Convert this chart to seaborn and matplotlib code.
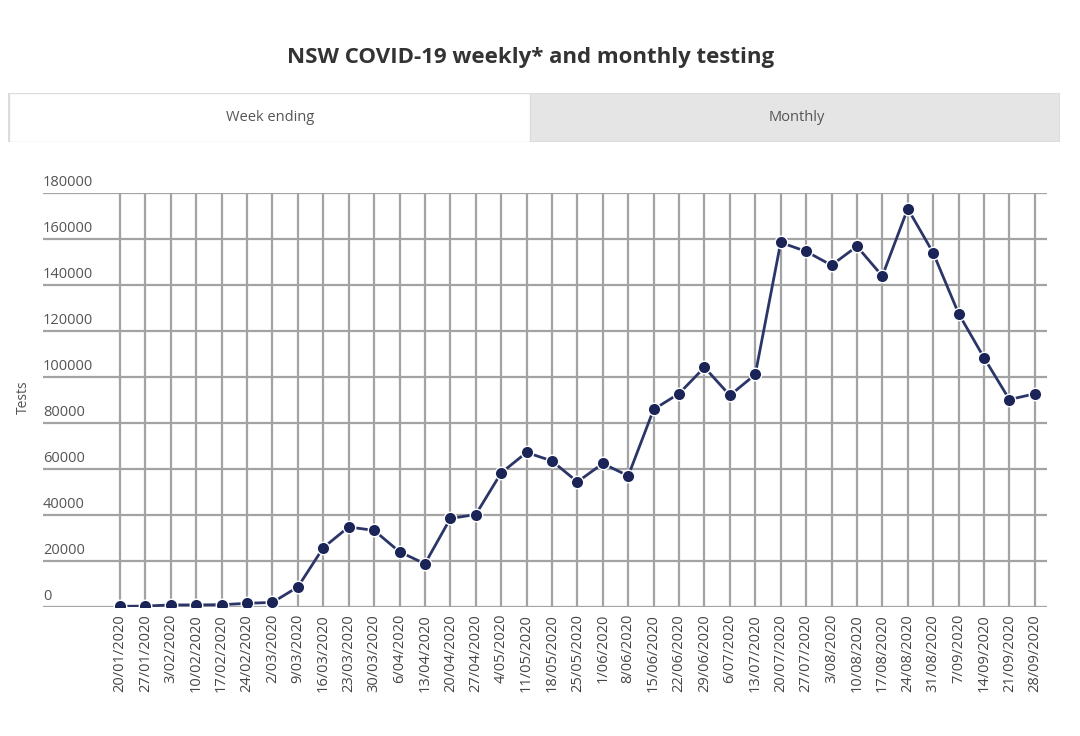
import matplotlib
matplotlib.use("Agg")
import matplotlib.pyplot as plt
import matplotlib.patches as mpatches
import matplotlib.transforms as mtransforms
import numpy as np
import pandas as pd
import seaborn as sns

# ──────────────────────────────────────────────────────────────
# Dados
# ──────────────────────────────────────────────────────────────
week_ending = [
    "20/01/2020", "27/01/2020", "3/02/2020", "10/02/2020", "17/02/2020",
    "24/02/2020", "2/03/2020", "9/03/2020", "16/03/2020", "23/03/2020",
    "30/03/2020", "6/04/2020", "13/04/2020", "20/04/2020", "27/04/2020",
    "4/05/2020", "11/05/2020", "18/05/2020", "25/05/2020", "1/06/2020",
    "8/06/2020", "15/06/2020", "22/06/2020", "29/06/2020", "6/07/2020",
    "13/07/2020", "20/07/2020", "27/07/2020", "3/08/2020", "10/08/2020",
    "17/08/2020", "24/08/2020", "31/08/2020", "7/09/2020", "14/09/2020",
    "21/09/2020", "28/09/2020",
]
tests = [
    300, 400, 900, 900, 1000,
    1600, 2000, 8700, 25800, 34800,
    33300, 24000, 18800, 38500, 40200,
    58300, 67200, 63500, 54400, 62400,
    57000, 85900, 92800, 104200, 92000,
    101100, 158500, 154600, 148600, 156800,
    143900, 173200, 154000, 127600, 108400,
    90200, 92700,
]
y_ticks = [0, 20000, 40000, 60000, 80000, 100000, 120000, 140000, 160000, 180000]

title = "NSW COVID-19 weekly* and monthly testing"
tab_labels = ["Week ending", "Monthly"]

# ──────────────────────────────────────────────────────────────
# Estilo
# ──────────────────────────────────────────────────────────────
sns.set_theme(style="white")
plt.rcParams["font.family"] = ["Open Sans", "DejaVu Sans"]

LINE_COLOR = "#2b3567"
MARKER_COLOR = "#1b2457"
GRID_COLOR = "#a3a3a3"
TEXT_COLOR = "#555555"

W, H = 1080, 736
fig = plt.figure(figsize=(W / 100, H / 100), dpi=100)

# título
fig.text(531 / W, 1 - 58 / H, title, ha="center", va="center",
         fontsize=16, fontweight="bold", color="#333333")

# abas (Week ending / Monthly)
tab_ax = fig.add_axes([8 / W, 1 - 142 / H, (1060 - 8) / W, (142 - 93) / H])
tab_ax.set_xlim(8, 1060)
tab_ax.set_ylim(0, 1)
tab_ax.axis("off")
tab_ax.add_patch(mpatches.Rectangle((8, 0), 1052, 1, facecolor="#e5e5e5",
                                    edgecolor="#dcdcdc", lw=1.5))
tab_ax.add_patch(mpatches.Rectangle((9, 0), 521, 1, facecolor="white",
                                    edgecolor="#dcdcdc", lw=1))
tab_ax.text(270, 0.5, tab_labels[0], ha="center", va="center",
            fontsize=10.5, color=TEXT_COLOR)
tab_ax.text(797, 0.5, tab_labels[1], ha="center", va="center",
            fontsize=10.5, color=TEXT_COLOR)

# ──────────────────────────────────────────────────────────────
# Gráfico principal
# ──────────────────────────────────────────────────────────────
ax_left, ax_right = 43, 1047
ax_top, ax_bottom = 193, 607
ax = fig.add_axes([ax_left / W, 1 - ax_bottom / H,
                   (ax_right - ax_left) / W, (ax_bottom - ax_top) / H])

df = pd.DataFrame({"pos": np.arange(len(week_ending)), "tests": tests})

# grades verticais em cada semana + horizontais
for p in df["pos"]:
    ax.axvline(p, color=GRID_COLOR, lw=1.6, zorder=0)
for yt in y_ticks:
    ax.axhline(yt, color=GRID_COLOR, lw=1.6, zorder=0)

sns.lineplot(data=df, x="pos", y="tests", ax=ax, color=LINE_COLOR, lw=2,
             marker="o", markersize=9, markerfacecolor=MARKER_COLOR,
             markeredgecolor="white", markeredgewidth=1.0, zorder=3)

ax.set_xlim(-3.03, 36.48)
ax.set_ylim(0, 180000)
ax.set_xticks(df["pos"])
ax.set_xticklabels(week_ending, rotation=90, fontsize=10.5, color="#444444")
ax.tick_params(axis="x", length=0, pad=5)
ax.set_yticks([])
ax.set_xlabel("")
ax.set_ylabel("")
for s in ax.spines.values():
    s.set_visible(False)

# rótulos do eixo y acima das linhas de grade
trans = mtransforms.blended_transform_factory(ax.transAxes, ax.transData)
for yt in y_ticks:
    ax.annotate(str(yt), xy=(0, yt), xycoords=trans, xytext=(0, 2.5),
                textcoords="offset points", ha="left", va="bottom",
                fontsize=10.5, color=TEXT_COLOR)

fig.text(23 / W, 1 - 397 / H, "Tests", rotation=90, ha="center", va="center",
         fontsize=10, color=TEXT_COLOR)

plt.savefig("out.png", dpi=100)
plt.close()
